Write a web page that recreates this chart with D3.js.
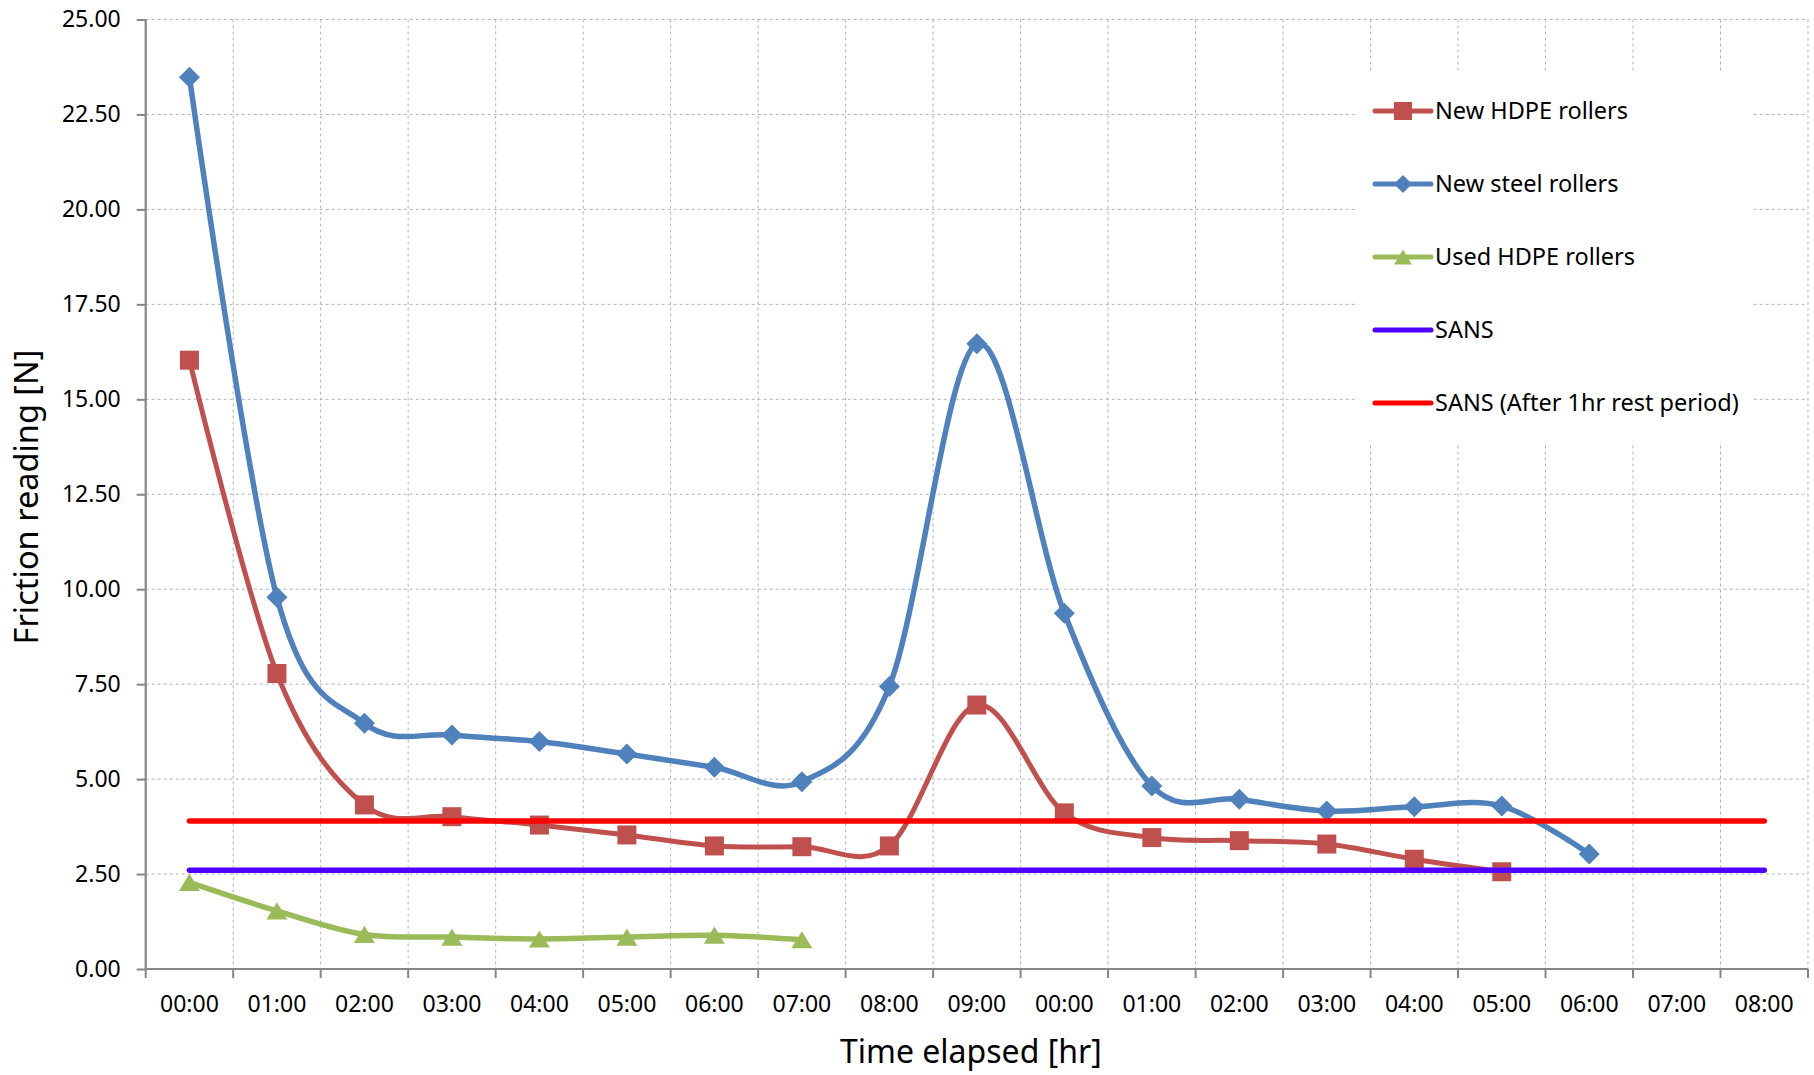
<!DOCTYPE html>
<html>
<head>
<meta charset="utf-8">
<script src="https://cdn.jsdelivr.net/npm/d3@7"></script>
<style>
  html, body { margin: 0; padding: 0; background: #fff; }
  text { font-family: "Noto Sans", sans-serif; fill: #000; }
</style>
</head>
<body>
<div id="chart"></div>
<script>
// time labels along the x axis (two runs, the clock restarts after 09:00)
var timeLabels = ["00:00","01:00","02:00","03:00","04:00","05:00","06:00","07:00","08:00","09:00",
                  "00:00","01:00","02:00","03:00","04:00","05:00","06:00","07:00","08:00"];

var newHdpe  = [16.03, 7.78, 4.32, 4.01, 3.79, 3.53, 3.24, 3.22, 3.24, 6.95, 4.11, 3.46, 3.38, 3.29, 2.89, 2.56];
var newSteel = [23.48, 9.79, 6.47, 6.16, 5.99, 5.66, 5.31, 4.93, 7.44, 16.46, 9.37, 4.82, 4.47, 4.16, 4.27, 4.29, 3.03];
var usedHdpe = [2.28, 1.53, 0.91, 0.84, 0.79, 0.84, 0.89, 0.77];
var sansLimit = 2.6;
var sansRestLimit = 3.9;

var yTicks = [0, 2.5, 5, 7.5, 10, 12.5, 15, 17.5, 20, 22.5, 25];

var seriesNames = ["New HDPE rollers", "New steel rollers", "Used HDPE rollers", "SANS", "SANS (After 1hr rest period)"];

(function() {
	var width = 1814;
	var height = 1075;
	var margin = {top: 19.5, right: 6, bottom: 106, left: 145.7};
	var w = width - margin.left - margin.right;
	var h = height - margin.top - margin.bottom;

	var svg = d3.select("#chart")
				.append("svg")
				.attr("width", width)
				.attr("height", height)

	var g = svg.append("g")
			   .attr("transform", "translate(" + margin.left + "," + margin.top + ")")

	var idx = d3.range(timeLabels.length);

	var xScale = d3.scaleBand()
				   .domain(idx)
				   .range([0, w])
				   .paddingInner(0)
				   .paddingOuter(0)

	var yScale = d3.scaleLinear()
				   .domain([0, 25])
				   .range([h, 0])

	var cx = function(i) { return xScale(i) + xScale.bandwidth() / 2; };

	// grid
	var grid = g.append("g")
	grid.selectAll("line.hg")
		.data(yTicks.filter(function(d) { return d > 0; }))
		.enter()
		.append("line")
		.attr("x1", 0)
		.attr("x2", w)
		.attr("y1", function(d) { return yScale(d); })
		.attr("y2", function(d) { return yScale(d); })
		.attr("stroke", "#b3b3b3")
		.attr("stroke-width", 1)
		.attr("stroke-dasharray", "3,3")

	grid.selectAll("line.vg")
		.data(idx)
		.enter()
		.append("line")
		.attr("x1", function(i) { return xScale(i) + xScale.bandwidth(); })
		.attr("x2", function(i) { return xScale(i) + xScale.bandwidth(); })
		.attr("y1", 0)
		.attr("y2", h)
		.attr("stroke", "#b3b3b3")
		.attr("stroke-width", 1)
		.attr("stroke-dasharray", "3,3")

	// axes
	var yAxis = d3.axisLeft(yScale)
				  .tickValues(yTicks)
				  .tickFormat(d3.format(".2f"))
				  .tickSize(9)
				  .tickPadding(16)

	var yG = g.append("g").call(yAxis)
	yG.select(".domain").attr("stroke", "#868686").attr("stroke-width", 2.2).attr("d", "M0," + h + "V0")
	yG.selectAll(".tick line").attr("stroke", "#868686").attr("stroke-width", 2)
	yG.selectAll(".tick text").style("font-size", "23px").style("font-family", "Noto Sans")

	var xAxis = d3.axisBottom(xScale)
				  .tickFormat(function(i) { return timeLabels[i]; })
				  .tickSize(0)
				  .tickPadding(27)

	var xG = g.append("g")
			  .attr("transform", "translate(0," + h + ")")
			  .call(xAxis)
	xG.select(".domain").attr("stroke", "#868686").attr("stroke-width", 2.2).attr("d", "M0,0H" + w)
	xG.selectAll(".tick text").style("font-size", "23px").style("font-family", "Noto Sans")

	xG.selectAll("line.xt")
	  .data([-1].concat(idx))
	  .enter()
	  .append("line")
	  .attr("x1", function(i) { return i < 0 ? 0 : xScale(i) + xScale.bandwidth(); })
	  .attr("x2", function(i) { return i < 0 ? 0 : xScale(i) + xScale.bandwidth(); })
	  .attr("y1", 0)
	  .attr("y2", 9)
	  .attr("stroke", "#868686")
	  .attr("stroke-width", 2)

	// axis titles
	svg.append("text")
	   .attr("x", margin.left + w / 2 - 6)
	   .attr("y", 1063)
	   .attr("text-anchor", "middle")
	   .style("font-size", "32px")
	   .text("Time elapsed [hr]")

	svg.append("text")
	   .attr("transform", "translate(38,497) rotate(-90)")
	   .attr("text-anchor", "middle")
	   .style("font-size", "32.5px")
	   .text("Friction reading [N]")

	// markers
	function marker(shape, s) {
		if (shape === "square") {
			return "M" + (-s/2) + "," + (-s/2) + "h" + s + "v" + s + "h" + (-s) + "Z";
		} else if (shape === "diamond") {
			return "M0," + (-s/2) + "L" + (s/2) + ",0L0," + (s/2) + "L" + (-s/2) + ",0Z";
		} else {
			var th = s * 0.82;
			return "M0," + (-th/2) + "L" + (s/2) + "," + (th/2) + "L" + (-s/2) + "," + (th/2) + "Z";
		}
	}

	var line = d3.line()
				 .x(function(d, i) { return cx(i); })
				 .y(function(d) { return yScale(d); })
				 .curve(d3.curveCatmullRom.alpha(0))

	var series = [
		{name: seriesNames[0], values: newHdpe,  color: "#C0504D", shape: "square",   size: 19, width: 5},
		{name: seriesNames[1], values: newSteel, color: "#4F81BD", shape: "diamond",  size: 21, width: 5.5},
		{name: seriesNames[2], values: usedHdpe, color: "#9BBB59", shape: "triangle", size: 21, width: 5.5}
	];

	series.forEach(function(s) {
		g.append("path")
		 .datum(s.values)
		 .attr("d", line)
		 .attr("fill", "none")
		 .attr("stroke", s.color)
		 .attr("stroke-width", s.width)
		 .attr("stroke-linejoin", "round")
		 .attr("stroke-linecap", "round")

		g.selectAll(null)
		 .data(s.values)
		 .enter()
		 .append("path")
		 .attr("d", marker(s.shape, s.size))
		 .attr("transform", function(d, i) { return "translate(" + cx(i) + "," + yScale(d) + ")"; })
		 .attr("fill", s.color)
	})

	// SANS limit lines
	var limits = [
		{name: seriesNames[3], value: sansLimit, color: "#5000FF"},
		{name: seriesNames[4], value: sansRestLimit, color: "#FF0000"}
	];

	limits.forEach(function(l) {
		g.append("path")
		 .datum(idx.map(function() { return l.value; }))
		 .attr("d", d3.line().x(function(d, i) { return cx(i); }).y(function(d) { return yScale(d); }))
		 .attr("fill", "none")
		 .attr("stroke", l.color)
		 .attr("stroke-width", 5.5)
		 .attr("stroke-linecap", "round")
	})

	// legend
	var legend = svg.append("g")
	legend.append("rect")
		  .attr("x", 1358)
		  .attr("y", 73)
		  .attr("width", 395)
		  .attr("height", 369)
		  .attr("fill", "#fff")

	var items = series.concat(limits);
	var rows = legend.selectAll("g.item")
					 .data(items)
					 .enter()
					 .append("g")
					 .attr("transform", function(d, i) { return "translate(1375," + (111 + i * 73) + ")"; })

	rows.append("line")
		.attr("x1", 0)
		.attr("x2", 56)
		.attr("stroke", function(d) { return d.color; })
		.attr("stroke-width", 5)
		.attr("stroke-linecap", "round")

	rows.filter(function(d) { return d.shape; })
		.append("path")
		.attr("d", function(d) { return marker(d.shape, 18); })
		.attr("transform", "translate(28,0)")
		.attr("fill", function(d) { return d.color; })

	rows.append("text")
		.attr("x", 60)
		.attr("y", 0)
		.attr("dy", "0.35em")
		.style("font-size", "23.5px")
		.text(function(d) { return d.name; })
}())
</script>
</body>
</html>
